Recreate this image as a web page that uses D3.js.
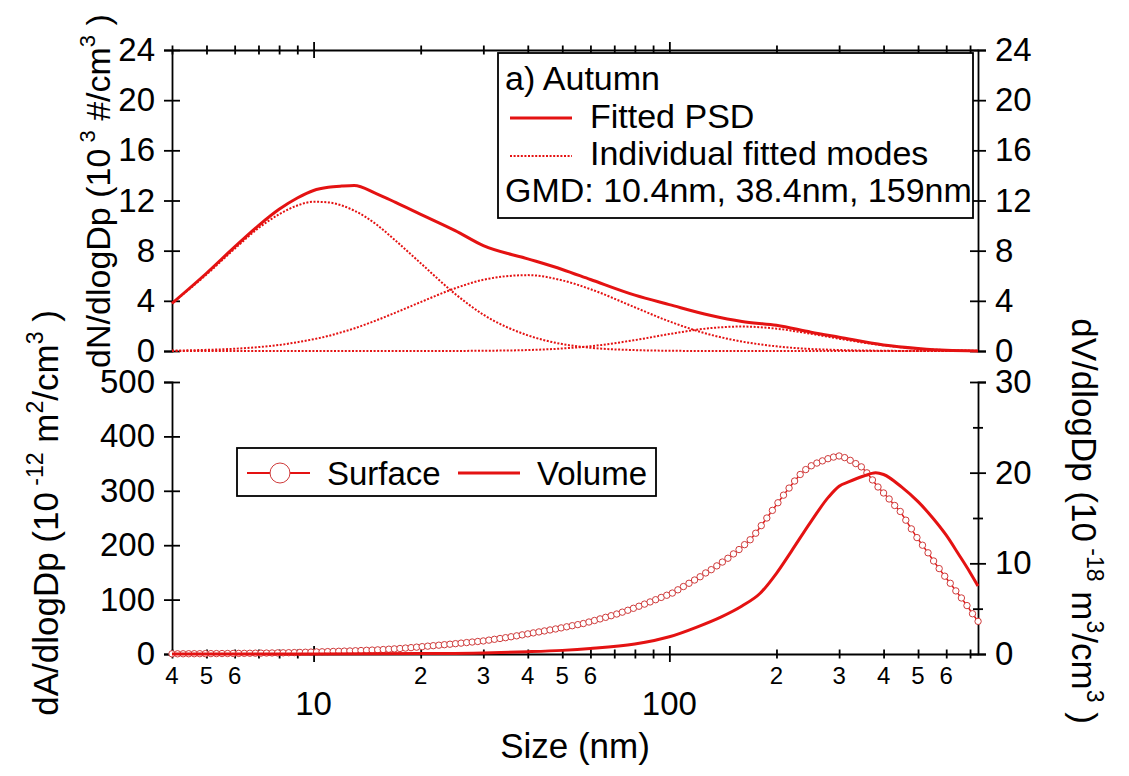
<!DOCTYPE html>
<html>
<head>
<meta charset="utf-8">
<script src="https://cdn.jsdelivr.net/npm/d3@7"></script>
<style>
  body { margin: 0; background: #fff; }
  text { font-family: "Liberation Sans", Arial, sans-serif; fill: #000; }
</style>
</head>
<body>
<script>
// ---- data ----
// top panel: number size distribution and fitted modes (10^3 #/cm3)
const psdSizes   = [4, 5, 6, 7, 8, 9, 10, 11, 12, 13, 15, 17, 20, 25, 30, 40, 50, 60, 80, 100, 130, 160, 200, 250, 300, 400, 500, 600, 737];
const fittedPSD  = [3.8, 6.2, 8.3, 10.0, 11.3, 12.2, 12.8, 13.05, 13.15, 13.2, 12.55, 11.85, 10.9, 9.6, 8.4, 7.35, 6.5, 5.7, 4.45, 3.7, 2.85, 2.35, 2.05, 1.5, 1.1, 0.48, 0.2, 0.05, 0];
const mode1      = [3.8, 6.1, 8.15, 9.8, 10.9, 11.6, 11.9, 11.85, 11.6, 11.2, 10.1, 8.8, 7.0, 4.55, 2.9, 1.25, 0.55, 0.26, 0.07, 0.02, 0, 0, 0, 0, 0, 0, 0, 0, 0];
const mode2      = [0.03, 0.09, 0.18, 0.31, 0.48, 0.7, 0.94, 1.2, 1.5, 1.8, 2.44, 3.06, 3.9, 5.0, 5.68, 6.05, 5.63, 4.93, 3.48, 2.36, 1.31, 0.75, 0.37, 0.16, 0.08, 0.02, 0, 0, 0];
const mode3      = [0, 0, 0, 0, 0, 0, 0, 0, 0, 0, 0, 0, 0, 0.005, 0.02, 0.075, 0.2, 0.38, 0.87, 1.35, 1.82, 1.95, 1.78, 1.37, 0.98, 0.45, 0.18, 0.07, 0.02];

// bottom panel: surface (10^-12 m2/cm3) on the SMPS channels, 64 per decade from 4 nm
const channelSizes = d3.range(146).map(i => 4 * Math.pow(10, i / 64));
const surfaceValues = [
  0.3, 0.35, 0.4, 0.45, 0.5, 0.55, 0.6, 0.7, 0.75, 0.85, 0.9, 1.0, 1.1, 1.2, 1.35, 1.5, 1.6, 1.75, 1.9, 2.0,
  2.2, 2.4, 2.6, 2.9, 3.2, 3.5, 3.8, 4.1, 4.4, 4.7, 5.0, 5.3, 5.6, 6.0, 6.4, 6.8, 7.2, 7.6, 8.2, 8.8,
  9.4, 10.1, 10.9, 11.7, 12.6, 13.5, 14.4, 15.3, 16.2, 17.1, 18.0, 19.0, 20.0, 21.0, 22.0, 23.0, 24.0, 25.5, 27.0, 28.5,
  30.0, 31.7, 33.4, 35.2, 37.0, 38.8, 40.6, 42.4, 44.2, 46.0, 48.0, 50.0, 52.0, 54.0, 56.0, 58.8, 61.6, 64.5, 67.4, 70.4,
  73.5, 76.9, 80.4, 84.0, 87.8, 91.7, 95.7, 99.8, 104, 108, 112, 118, 124, 130, 136, 142, 149, 155, 162, 169,
  176, 184, 192, 201, 210, 222, 236, 250, 264, 278, 292, 305, 318, 330, 339, 346, 351, 355, 359, 362,
  364, 361, 356, 350, 344, 333, 320, 307, 296, 285, 273, 262, 246, 230, 214, 200, 186, 171, 157, 143,
  130, 116, 103, 89, 74, 60
];
// volume (10^-18 m3/cm3)
const volumeSizes  = [4, 10, 20, 30, 40, 50, 60, 80, 100, 120, 140, 160, 180, 200, 220, 250, 280, 300, 320, 350, 380, 400, 450, 500, 550, 600, 650, 700, 737];
const volumeValues = [0, 0.01, 0.05, 0.12, 0.25, 0.4, 0.6, 1.1, 1.9, 3.0, 4.1, 5.3, 6.7, 8.9, 11.3, 14.6, 17.3, 18.5, 19.0, 19.6, 20.0, 19.8, 18.4, 16.8, 15.0, 13.1, 11.0, 9.0, 7.5];

// axis ticks
const xTicks = [4, 5, 6, 7, 8, 9, 10, 20, 30, 40, 50, 60, 70, 80, 90, 100, 200, 300, 400, 500, 600, 700];
const xMinorLabels = [[4, '4'], [5, '5'], [6, '6'], [20, '2'], [30, '3'], [40, '4'], [50, '5'], [60, '6'],
                      [200, '2'], [300, '3'], [400, '4'], [500, '5'], [600, '6']];
const xMajorLabels = [10, 100];
const nTicks = [0, 4, 8, 12, 16, 20, 24];
const aTicks = [0, 100, 200, 300, 400, 500];
const vTicks = [0, 5, 10, 15, 20, 25, 30];

// ---- setup ----
const width = 1129, height = 776;
const red = '#e41212';
const left = 172, right = 978;

const svg = d3.select('body').append('svg')
    .attr('width', width)
    .attr('height', height);

const x = d3.scaleLog().domain([4, 737]).range([left, right]);
const yN = d3.scaleLinear().domain([0, 24]).range([351, 50]);
const yA = d3.scaleLinear().domain([0, 500]).range([654, 382]);
const yV = d3.scaleLinear().domain([0, 30]).range([654, 382]);

// axes with ticks crossing the axis line
function styleAxis(g, fontSize) {
    g.attr('font-family', null).attr('font-size', fontSize);
    g.select('.domain').attr('stroke', '#000').attr('stroke-width', 1.8);
    g.selectAll('.tick line').attr('stroke', '#000').attr('stroke-width', 1.8);
}

function vAxis(scale, ticks, xPos, side, minorOf) {
    const ax = side === 'left' ? d3.axisLeft(scale) : d3.axisRight(scale);
    const g = svg.append('g')
        .attr('transform', `translate(${xPos},0)`)
        .call(ax.tickValues(ticks).tickSizeOuter(0).tickSize(8).tickPadding(9)
                .tickFormat(d => (minorOf && minorOf(d)) ? '' : d));
    styleAxis(g, 33);
    g.selectAll('.tick line')
        .attr('x1', d => (minorOf && minorOf(d)) ? -5 : -8)
        .attr('x2', d => (minorOf && minorOf(d)) ? 5 : 8);
    return g;
}

function hAxis(yPos) {
    const g = svg.append('g')
        .attr('transform', `translate(0,${yPos})`)
        .call(d3.axisBottom(x).tickValues(xTicks).tickSizeOuter(0).tickFormat(''));
    styleAxis(g, 24);
    g.selectAll('.tick line')
        .attr('y1', d => (d === 10 || d === 100) ? -8 : -4.5)
        .attr('y2', d => (d === 10 || d === 100) ? 8 : 4.5);
    return g;
}

// top panel axes
vAxis(yN, nTicks, left, 'left');
vAxis(yN, nTicks, right, 'right');
hAxis(50);

// bottom panel axes
vAxis(yA, aTicks, left, 'left');
vAxis(yV, vTicks, right, 'right', d => d % 10 !== 0);
hAxis(654);

// x tick labels
svg.append('g').selectAll('text')
    .data(xMinorLabels)
    .join('text')
    .attr('x', d => x(d[0]))
    .attr('y', 684)
    .attr('text-anchor', 'middle')
    .attr('font-size', 24)
    .text(d => d[1]);

svg.append('g').selectAll('text')
    .data(xMajorLabels)
    .join('text')
    .attr('x', d => x(d))
    .attr('y', 715)
    .attr('text-anchor', 'middle')
    .attr('font-size', 33)
    .text(d => d);

// ---- top panel series ----
const lineN = vals => d3.line()
    .x((d, i) => x(psdSizes[i]))
    .y(d => yN(d))
    .curve(d3.curveMonotoneX)(vals);

[mode1, mode2, mode3].forEach(m => {
    svg.append('path')
        .attr('d', lineN(m))
        .attr('fill', 'none')
        .attr('stroke', red)
        .attr('stroke-width', 2)
        .attr('stroke-dasharray', '2,1.6');
});

svg.append('path')
    .attr('d', lineN(fittedPSD))
    .attr('fill', 'none')
    .attr('stroke', red)
    .attr('stroke-width', 3);

// ---- bottom panel series ----
const surface = channelSizes.map((s, i) => ({ size: s, value: surfaceValues[i] }));

svg.append('path')
    .datum(surface)
    .attr('fill', 'none')
    .attr('stroke', red)
    .attr('stroke-width', 1.5)
    .attr('d', d3.line().x(d => x(d.size)).y(d => yA(d.value)));

svg.append('g').selectAll('circle')
    .data(surface)
    .join('circle')
    .attr('cx', d => x(d.size))
    .attr('cy', d => yA(d.value))
    .attr('r', 3.2)
    .attr('fill', '#fff')
    .attr('stroke', '#cf3a3a')
    .attr('stroke-width', 1);

svg.append('path')
    .attr('d', d3.line()
        .x((d, i) => x(volumeSizes[i]))
        .y(d => yV(d))
        .curve(d3.curveMonotoneX)(volumeValues))
    .attr('fill', 'none')
    .attr('stroke', red)
    .attr('stroke-width', 3);

// ---- legends ----
const leg1 = svg.append('g');
leg1.append('rect')
    .attr('x', 498).attr('y', 53).attr('width', 475).attr('height', 165)
    .attr('fill', '#fff').attr('stroke', '#000').attr('stroke-width', 1.8);
leg1.append('text').attr('x', 505).attr('y', 90).attr('font-size', 34).text('a) Autumn');
leg1.append('line').attr('x1', 510).attr('x2', 572).attr('y1', 118).attr('y2', 118)
    .attr('stroke', red).attr('stroke-width', 3);
leg1.append('text').attr('x', 590).attr('y', 128).attr('font-size', 34).text('Fitted PSD');
leg1.append('line').attr('x1', 510).attr('x2', 572).attr('y1', 156).attr('y2', 156)
    .attr('stroke', red).attr('stroke-width', 2).attr('stroke-dasharray', '2,1.6');
leg1.append('text').attr('x', 590).attr('y', 165).attr('font-size', 34).text('Individual fitted modes');
leg1.append('text').attr('x', 505).attr('y', 202).attr('font-size', 34).text('GMD: 10.4nm, 38.4nm, 159nm');

const leg2 = svg.append('g');
leg2.append('rect')
    .attr('x', 237).attr('y', 448).attr('width', 419).attr('height', 48)
    .attr('fill', '#fff').attr('stroke', '#000').attr('stroke-width', 1.8);
leg2.append('line').attr('x1', 247).attr('x2', 310).attr('y1', 473).attr('y2', 473)
    .attr('stroke', red).attr('stroke-width', 2);
leg2.append('circle').attr('cx', 280).attr('cy', 473).attr('r', 10)
    .attr('fill', '#fff').attr('stroke', '#cf3a3a').attr('stroke-width', 1);
leg2.append('text').attr('x', 327).attr('y', 485).attr('font-size', 33).text('Surface');
leg2.append('line').attr('x1', 458).attr('x2', 520).attr('y1', 473).attr('y2', 473)
    .attr('stroke', red).attr('stroke-width', 3);
leg2.append('text').attr('x', 537).attr('y', 485).attr('font-size', 33).text('Volume');

// ---- axis titles ----
function title(tx, ty, angle, size, parts) {
    const t = svg.append('text')
        .attr('transform', `translate(${tx},${ty}) rotate(${angle})`)
        .attr('text-anchor', 'middle')
        .attr('font-size', size);
    parts.forEach(([str, sup], i) => {
        t.append('tspan')
            .attr('font-size', sup ? Math.round(size * 0.66) : size)
            .attr('dy', i === 0 ? 0 : (sup ? -15 : 15))
            .text(str);
    });
    return t;
}

title(110, 191, -90, 34, [['dN/dlogDp (10', false], [' 3', true], [' #/cm', false], ['3', true], [' )', false]]);
title(58, 513, -90, 35, [['dA/dlogDp (10', false], [' -12', true], [' m', false], ['2', true], ['/cm', false], ['3', true], [' )', false]]);
title(1072, 521, 90, 35, [['dV/dlogDp (10', false], [' -18', true], [' m', false], ['3', true], ['/cm', false], ['3', true], [' )', false]]);

svg.append('text')
    .attr('x', 575).attr('y', 758)
    .attr('text-anchor', 'middle')
    .attr('font-size', 35)
    .text('Size (nm)');
</script>
</body>
</html>
